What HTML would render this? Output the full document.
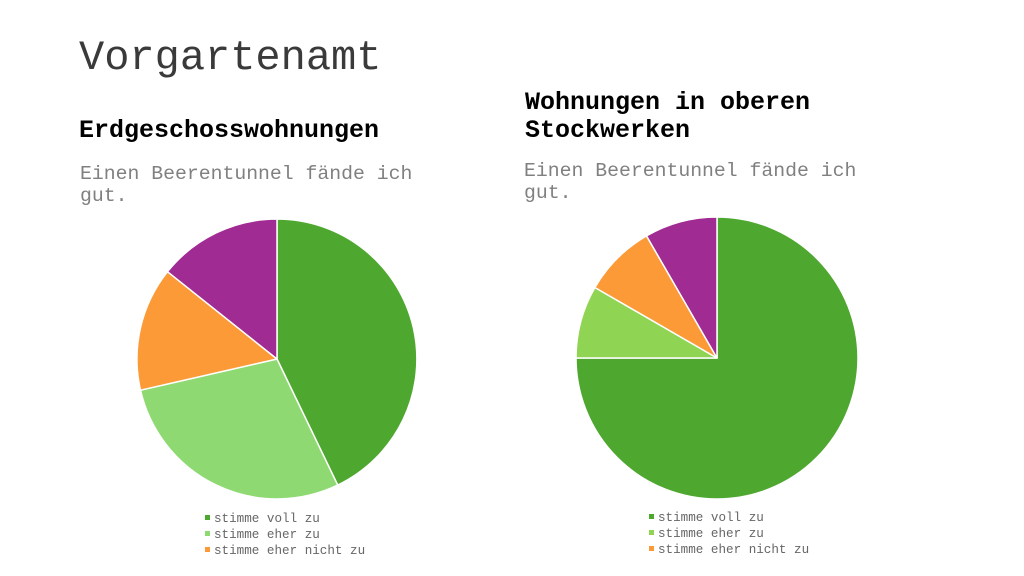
<!DOCTYPE html>
<html><head><meta charset="utf-8"><style>
body{margin:0;width:1024px;height:576px;background:#fff;overflow:hidden;position:relative;font-family:"Liberation Mono",monospace}
div{position:absolute;white-space:nowrap}
.t{left:79px;top:34px;font-size:42px;color:#3a3a3a}
.h{font-size:25px;font-weight:bold;color:#000;line-height:28px}
.s{font-size:19.8px;color:#808080;line-height:22px}
.lg{font-size:12.6px;color:#666;line-height:16px}
.lg span{display:inline-block;width:5px;height:5px;margin-right:4px;vertical-align:2px}
</style></head><body>
<div class="t">Vorgartenamt</div>
<div class="h" style="left:79px;top:117px">Erdgeschosswohnungen</div>
<div class="s" style="left:80px;top:163px">Einen Beerentunnel fände ich<br>gut.</div>
<div class="h" style="left:525px;top:89px">Wohnungen in oberen<br>Stockwerken</div>
<div class="s" style="left:524px;top:160px">Einen Beerentunnel fände ich<br>gut.</div>
<svg width="1024" height="576" style="position:absolute;left:0;top:0">
<g stroke="#fff" stroke-width="1.5" stroke-linejoin="round">
<path d="M277,359 L277,219 A140,140 0 0 1 337.7,485.1 Z" fill="#4ea72e"/>
<path d="M277,359 L337.7,485.1 A140,140 0 0 1 140.5,390.2 Z" fill="#8fd973"/>
<path d="M277,359 L140.5,390.2 A140,140 0 0 1 167.5,271.7 Z" fill="#fb9a37"/>
<path d="M277,359 L167.5,271.7 A140,140 0 0 1 277,219 Z" fill="#a02b93"/>
<path d="M717,358 L717,217 A141,141 0 1 1 576,358 Z" fill="#4ea72e"/>
<path d="M717,358 L576,358 A141,141 0 0 1 594.9,287.5 Z" fill="#8fd452"/>
<path d="M717,358 L594.9,287.5 A141,141 0 0 1 646.5,235.9 Z" fill="#fb9a37"/>
<path d="M717,358 L646.5,235.9 A141,141 0 0 1 717,217 Z" fill="#a02b93"/>
</g></svg>
<div class="lg" style="left:205px;top:511px"><span style="background:#4ea72e"></span>stimme voll zu<br><span style="background:#8fd973"></span>stimme eher zu<br><span style="background:#fb9a37"></span>stimme eher nicht zu</div>
<div class="lg" style="left:649px;top:510px"><span style="background:#4ea72e"></span>stimme voll zu<br><span style="background:#8fd452"></span>stimme eher zu<br><span style="background:#fb9a37"></span>stimme eher nicht zu</div>
</body></html>
